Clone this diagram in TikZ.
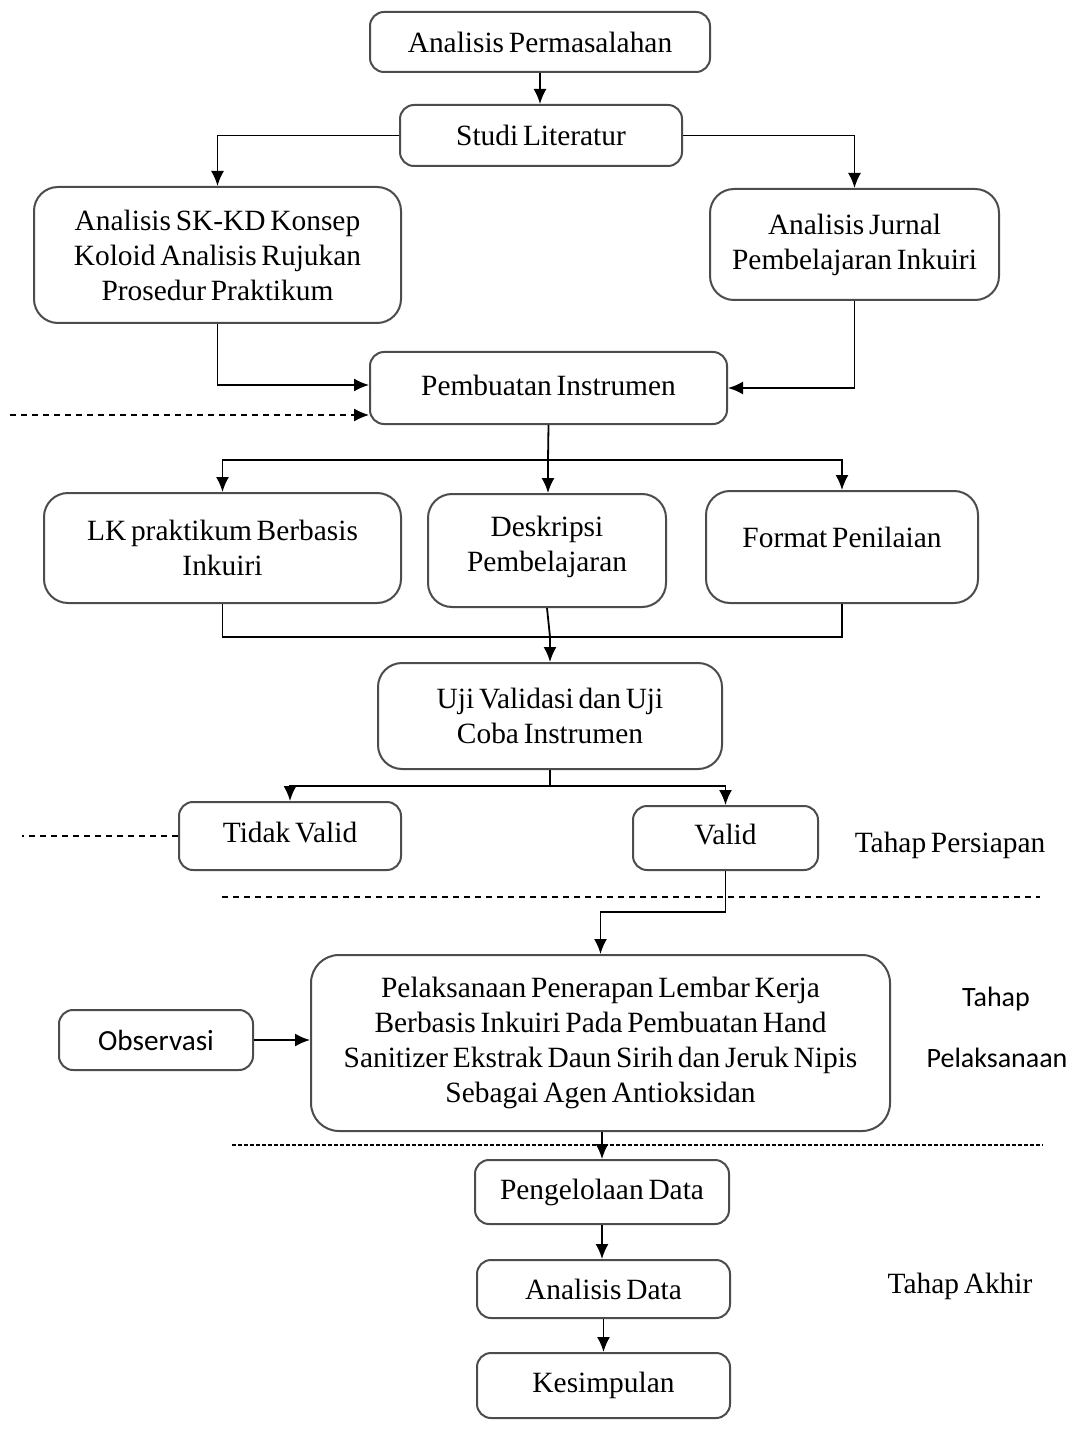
\documentclass[tikz,border=0pt]{standalone}
\usepackage{fontspec}
\setmainfont[WordSpace=0.65]{Liberation Serif}
\newfontfamily\calfont{Carlito}
\usetikzlibrary{arrows.meta,calc}
\begin{document}
\begin{tikzpicture}[x=0.5pt,y=-0.5pt,
  box/.style={draw=black!70, line width=1pt, rounded corners=7pt, align=center, inner sep=0pt,
    font=\fontsize{14.7}{17.5}\selectfont},
  arr/.style={-{Latex[length=7.5pt,width=6.5pt]}, line width=0.9pt},
  ln/.style={line width=0.9pt},
  dl/.style={line width=0.6pt, dash pattern=on 3pt off 2.5pt},
  dl2/.style={line width=0.8pt, dash pattern=on 2pt off 1pt},
  lbl/.style={font=\fontsize{14.7}{17.5}\selectfont, inner sep=0pt},
  sl/.style={font=\calfont\fontsize{14}{17.5}\selectfont, inner sep=0pt}]
\useasboundingbox[fill=white] (0,0) rectangle (1079,1443);

\node[box, minimum width=170pt, minimum height=30pt] (ap) at (540,42) {Analisis Permasalahan};
\node[box, minimum width=141pt, minimum height=30.5pt] (sl) at (541,135.5) {Studi Literatur};
\node[box, minimum width=183.5pt, minimum height=68pt, rounded corners=12pt] (sk) at (217.5,255) {Analisis SK-KD Konsep\\Koloid Analisis Rujukan\\Prosedur Praktikum};
\node[box, minimum width=144.5pt, minimum height=55.5pt, rounded corners=12pt] (jr) at (854.5,244.5) {Analisis Jurnal\\Pembelajaran Inkuiri};
\node[box, minimum width=178.5pt, minimum height=36pt] (pi) at (548.5,388) {};
\node[lbl] (pit) at (548.5,385) {Pembuatan Instrumen};
\node[box, minimum width=178.5pt, minimum height=55pt, rounded corners=12pt] (lk) at (222.5,548) {LK praktikum Berbasis\\Inkuiri};
\node[box, minimum width=119pt, minimum height=56.5pt, rounded corners=12pt] (ds) at (547,550.5) {};
\node[lbl, align=center] (dst) at (547,547) {Deskripsi\\Pembelajaran};
\node[box, minimum width=136pt, minimum height=56pt, rounded corners=12pt] (fp) at (842,547) {};
\node[lbl] (fpt) at (842,537) {Format Penilaian};
\node[box, minimum width=172pt, minimum height=53pt, rounded corners=12pt] (uv) at (550,716) {Uji Validasi dan Uji\\Coba Instrumen};
\node[box, minimum width=111pt, minimum height=34pt] (tv) at (290,836) {};
\node[lbl] (tvt) at (290,833) {Tidak Valid};
\node[box, minimum width=92.5pt, minimum height=32pt] (va) at (725.5,838) {};
\node[lbl] (vat) at (725.5,835) {Valid};
\node[box, minimum width=289.5pt, minimum height=88pt, rounded corners=14pt] (pl) at (600.5,1043) {Pelaksanaan Penerapan Lembar Kerja\\Berbasis Inkuiri Pada Pembuatan Hand\\Sanitizer Ekstrak Daun Sirih dan Jeruk Nipis\\Sebagai Agen Antioksidan};
\node[box, minimum width=97pt, minimum height=30pt, font=\calfont\fontsize{14.6}{17.5}\selectfont] (ob) at (156,1040) {Observasi};
\node[box, minimum width=127pt, minimum height=32pt] (pd) at (602,1192) {Pengelolaan Data};
\node[box, minimum width=126.5pt, minimum height=29pt] (ad) at (603.5,1289) {Analisis Data};
\node[box, minimum width=126.5pt, minimum height=32.5pt] (ks) at (603.5,1385.5) {Kesimpulan};

\node[lbl] (t1) at (950,845) {Tahap Persiapan};
\node[sl] (t2) at (996,999) {Tahap};
\node[sl] (t3) at (997,1058) {Pelaksanaan};
\node[lbl] (t4) at (960,1286) {Tahap Akhir};

% connectors
\draw[arr] (ap.south) -- (ap.south |- sl.north);
\draw[arr] (sl.west) -| (sk.north);
\draw[arr] (sl.east) -| (jr.north);
\draw[arr] (sk.south) |- (pi.west |- 0,385);
\draw[arr] (jr.south) |- (pi.east |- 0,388);
\coordinate (dl1) at (10,415);
\draw[arr, dl] (dl1) -- (dl1 -| pi.west);

\coordinate (j1) at (548,460);
\draw[ln] (pi.south) -- (j1);
\draw[arr] (j1) -| (lk.north);
\draw[arr] (j1) -| (fp.north);
\draw[arr] (j1) -- (j1 |- ds.north);

\coordinate (j2) at (550,637);
\draw[ln] (lk.south) |- (j2);
\draw[ln] (fp.south) |- (j2);
\draw[ln] (ds.south) -- (j2);
\draw[arr] (j2) -- (uv.north);

\coordinate (j3) at (550,786);
\draw[ln] (uv.south) -- (j3);
\draw[arr] (j3) -| (tv.north);
\draw[arr] (j3) -| (va.north);

\coordinate (tl) at (22,836);
\draw[dl] (tv.west) -- (tv.west -| tl);

\coordinate (d1a) at (222,897);
\coordinate (d1b) at (1040,897);
\draw[dl] (d1a) -- (d1b);

\draw[arr] (va.south) -- (va.south |- 0,912) -| (pl.north);
\draw[arr] (ob.east) -- (ob.east -| pl.west);

\coordinate (d2a) at (232,1145);
\coordinate (d2b) at (1043,1145);
\draw[dl2] (d2a) -- (d2b);

\draw[arr] (pd.north |- pl.south) -- (pd.north);
\draw[arr] (pd.south) -- (pd.south |- ad.north);
\draw[arr] (ad.south) -- (ad.south |- ks.north);
\end{tikzpicture}
\end{document}
